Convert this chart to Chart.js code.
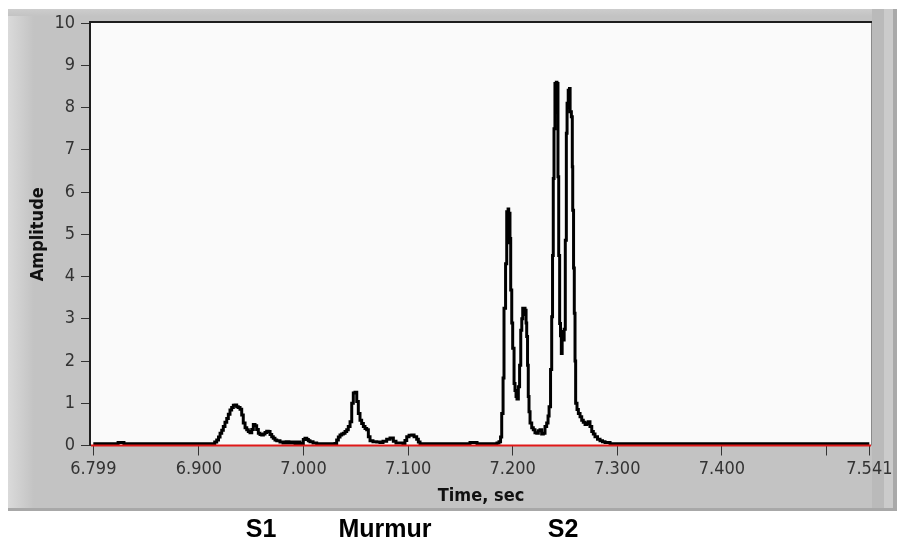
<!DOCTYPE html>
<html>
<head>
<meta charset="utf-8">
<script src="https://cdn.jsdelivr.net/npm/chart.js@4.4.1/dist/chart.umd.min.js"></script>
<style>
  html, body { margin: 0; padding: 0; background: #ffffff; }
  #wrap { width: 899px; height: 542px; position: relative; }
</style>
</head>
<body>
<div id="wrap"><canvas id="c" width="899" height="542"></canvas></div>
<script>
// ---- data ----
const timeSec = [
  6.7990, 6.8217, 6.8227, 6.8274, 6.8283,
  6.9125, 6.9151, 6.9170, 6.9187, 6.9202, 6.9218, 6.9233, 6.9249, 6.9266, 6.9281,
  6.9297, 6.9313, 6.9329, 6.9345, 6.9361, 6.9376, 6.9393, 6.9409, 6.9424, 6.9441,
  6.9457, 6.9472, 6.9488, 6.9505, 6.9520, 6.9536, 6.9552, 6.9568, 6.9584, 6.9600,
  6.9616, 6.9632, 6.9648, 6.9663, 6.9680, 6.9696, 6.9711, 6.9727, 6.9744, 6.9775,
  6.9804, 6.9833, 6.9861, 6.9890, 6.9919, 6.9947, 6.9966, 6.9998, 7.0014, 7.0031,
  7.0046, 7.0062, 7.0091, 7.0126,
  7.0301, 7.0317, 7.0333, 7.0349, 7.0365, 7.0381, 7.0397, 7.0413, 7.0428, 7.0445,
  7.0461, 7.0476, 7.0492, 7.0509, 7.0524, 7.0540, 7.0556, 7.0572, 7.0588, 7.0604,
  7.0620, 7.0636, 7.0664, 7.0700, 7.0731, 7.0760, 7.0795, 7.0827, 7.0859, 7.0884,
  7.0951, 7.0970, 7.0987, 7.1009, 7.1035, 7.1057, 7.1082, 7.1098, 7.1114,
  7.1582, 7.1592, 7.1649, 7.1659,
  7.1831, 7.1850, 7.1869, 7.1884, 7.1895, 7.1908, 7.1917, 7.1932, 7.1943, 7.1951,
  7.1956, 7.1962, 7.1967, 7.1974, 7.1981, 7.1991, 7.2000, 7.2013, 7.2022, 7.2032,
  7.2041, 7.2054, 7.2066, 7.2077, 7.2087, 7.2096, 7.2104, 7.2112, 7.2118, 7.2128,
  7.2134, 7.2142, 7.2149, 7.2156, 7.2166, 7.2182, 7.2197, 7.2213, 7.2230, 7.2245,
  7.2261, 7.2277, 7.2293, 7.2309, 7.2325, 7.2338, 7.2348, 7.2362, 7.2373, 7.2381,
  7.2388, 7.2395, 7.2404, 7.2411, 7.2417, 7.2423, 7.2427, 7.2433, 7.2440, 7.2449,
  7.2457, 7.2465, 7.2473, 7.2480, 7.2492, 7.2503, 7.2513, 7.2520, 7.2531, 7.2537,
  7.2543, 7.2549, 7.2561, 7.2570, 7.2574, 7.2582, 7.2589, 7.2596, 7.2602, 7.2615,
  7.2628, 7.2644, 7.2660, 7.2675, 7.2692, 7.2708, 7.2723, 7.2739, 7.2756, 7.2771,
  7.2787, 7.2811, 7.2835, 7.2859, 7.2883, 7.2931, 7.5410
];
const amplitude = [
  0.04, 0.04, 0.07, 0.07, 0.04,
  0.04, 0.08, 0.13, 0.20, 0.29, 0.36, 0.45, 0.55, 0.64, 0.74,
  0.84, 0.90, 0.95, 0.96, 0.92, 0.90, 0.86, 0.72, 0.53, 0.42,
  0.37, 0.33, 0.30, 0.38, 0.50, 0.47, 0.38, 0.29, 0.26, 0.25,
  0.27, 0.31, 0.34, 0.33, 0.26, 0.21, 0.17, 0.13, 0.11, 0.08,
  0.06, 0.09, 0.06, 0.08, 0.05, 0.08, 0.05, 0.14, 0.17, 0.14,
  0.11, 0.09, 0.06, 0.04,
  0.05, 0.13, 0.20, 0.25, 0.27, 0.29, 0.33, 0.37, 0.45, 0.56,
  1.00, 1.24, 1.26, 1.04, 0.76, 0.60, 0.52, 0.45, 0.40, 0.37,
  0.21, 0.11, 0.09, 0.08, 0.07, 0.10, 0.15, 0.18, 0.10, 0.06,
  0.05, 0.12, 0.21, 0.24, 0.25, 0.21, 0.15, 0.08, 0.04,
  0.04, 0.07, 0.07, 0.04,
  0.04, 0.06, 0.09, 0.20, 0.76, 1.60, 3.25, 4.30, 5.53, 5.00,
  5.60, 4.80, 5.50, 4.90, 3.68, 2.90, 2.30, 1.47, 1.30, 1.16,
  1.10, 1.39, 1.90, 2.73, 3.00, 3.25, 3.10, 3.25, 3.20, 2.90,
  2.58, 1.90, 1.16, 0.80, 0.53, 0.42, 0.37, 0.30, 0.29, 0.35,
  0.37, 0.27, 0.29, 0.45, 0.53, 0.70, 0.92, 1.80, 3.05, 4.50,
  6.32, 7.50, 8.57, 7.90, 8.60, 8.00, 8.57, 6.36, 4.50, 2.89,
  2.60, 2.18, 2.70, 2.50, 2.75, 4.86, 7.39, 8.10, 8.41, 8.00,
  8.45, 7.90, 7.78, 6.60, 5.57, 4.20, 3.13, 2.00, 1.00, 0.85,
  0.76, 0.68, 0.60, 0.55, 0.50, 0.52, 0.56, 0.45, 0.33, 0.27,
  0.21, 0.15, 0.11, 0.09, 0.07, 0.04, 0.04
];
const zeroLineX = [6.7968, 7.5426];
const zeroLineY = [0, 0];
const xTickValues = [6.799, 6.9, 7.0, 7.1, 7.2, 7.3, 7.4, 7.5, 7.541];
const xTickLabels = ['6.799', '6.900', '7.000', '7.100', '7.200', '7.300', '7.400', '', '7.541'];
const yTickValues = [0, 1, 2, 3, 4, 5, 6, 7, 8, 9, 10];
const footLabels = ['S1', 'Murmur', 'S2'];
const footCenters = [261, 385, 563];

// ---- build datasets ----
const signalPoints = timeSec.map((t, i) => ({ x: t, y: amplitude[i] }));
const zeroPoints = zeroLineX.map((t, i) => ({ x: t, y: zeroLineY[i] }));

const panelPlugin = {
  id: 'panel',
  beforeDraw(chart) {
    const ctx = chart.ctx;
    const a = chart.chartArea;
    ctx.save();
    ctx.fillStyle = '#ffffff';
    ctx.fillRect(0, 0, chart.width, chart.height);
    // gray panel
    ctx.fillStyle = '#c3c3c3';
    ctx.fillRect(8, 9, 889, 502);
    // left lighter bevel
    let g = ctx.createLinearGradient(8, 0, 34, 0);
    g.addColorStop(0, '#dadada');
    g.addColorStop(1, '#c3c3c3');
    ctx.fillStyle = g;
    ctx.fillRect(8, 9, 26, 502);
    // top strip
    g = ctx.createLinearGradient(0, 9, 0, 16);
    g.addColorStop(0, '#cdcdcd');
    g.addColorStop(1, '#c3c3c3');
    ctx.fillStyle = g;
    ctx.fillRect(8, 9, 889, 7);
    // right bevel
    ctx.fillStyle = '#bababa';
    ctx.fillRect(872, 9, 12, 502);
    ctx.fillStyle = '#cbcbcb';
    ctx.fillRect(884, 9, 9, 502);
    ctx.fillStyle = '#a9a9a9';
    ctx.fillRect(893, 9, 4, 502);
    // bottom edge
    ctx.fillStyle = '#a8a8a8';
    ctx.fillRect(8, 508, 889, 3);
    // plot area
    ctx.fillStyle = '#fafafa';
    ctx.fillRect(a.left, a.top, a.right - a.left, a.bottom - a.top);
    ctx.restore();
  },
  beforeDatasetsDraw(chart) {
    const ctx = chart.ctx;
    const a = chart.chartArea;
    ctx.save();
    ctx.strokeStyle = '#8a8a8a';
    ctx.lineWidth = 1;
    ctx.beginPath();
    ctx.moveTo(a.right + 0.5, a.top);
    ctx.lineTo(a.right + 0.5, a.bottom);
    ctx.stroke();
    ctx.strokeStyle = '#1e1e1e';
    ctx.lineWidth = 2;
    ctx.beginPath();
    ctx.moveTo(a.left - 1, a.bottom);
    ctx.lineTo(a.left - 1, a.top - 1);
    ctx.lineTo(a.right + 1, a.top - 1);
    ctx.stroke();
    ctx.restore();
  },
  afterDraw(chart) {
    const ctx = chart.ctx;
    ctx.save();
    ctx.fillStyle = '#000000';
    ctx.font = 'bold 25px "Liberation Sans", Arial, sans-serif';
    ctx.textAlign = 'center';
    ctx.textBaseline = 'alphabetic';
    footLabels.forEach((t, i) => ctx.fillText(t, footCenters[i], 537));
    ctx.restore();
  }
};

const tickFont = { family: '"DejaVu Sans Condensed", "DejaVu Sans", sans-serif', size: 18 };
const titleFont = { family: '"DejaVu Sans Condensed", "DejaVu Sans", sans-serif', size: 18, weight: 'bold' };

new Chart(document.getElementById('c'), {
  type: 'line',
  data: {
    datasets: [
      {
        label: 'Zero',
        data: zeroPoints,
        borderColor: '#e01818',
        borderWidth: 2,
        pointRadius: 0,
        clip: 4,
        order: 0
      },
      {
        label: 'Amplitude',
        data: signalPoints,
        borderColor: '#000000',
        borderWidth: 3,
        pointRadius: 0,
        stepped: true,
        order: 1
      }
    ]
  },
  options: {
    responsive: false,
    animation: false,
    events: [],
    layout: { padding: { left: 0, top: 23, right: 28, bottom: 31 } },
    plugins: { legend: { display: false }, tooltip: { enabled: false } },
    scales: {
      x: {
        type: 'linear',
        min: 6.7968,
        max: 7.5426,
        afterBuildTicks: (s) => { s.ticks = xTickValues.map(v => ({ value: v })); },
        afterFit: (s) => { s.height = 65.5; },
        ticks: {
          autoSkip: false,
          maxRotation: 0,
          minRotation: 0,
          padding: 3,
          color: '#333333',
          font: tickFont,
          callback: (v, i) => xTickLabels[i]
        },
        grid: { drawOnChartArea: false, drawTicks: true, tickLength: 10, tickColor: '#333333', tickWidth: 1 },
        border: { display: false },
        title: { display: true, text: 'Time, sec', color: '#111111', font: titleFont, padding: { top: 0, bottom: 4 } }
      },
      y: {
        min: 0,
        max: 10,
        afterBuildTicks: (s) => { s.ticks = yTickValues.map(v => ({ value: v })); },
        afterFit: (s) => { s.width = 91; },
        ticks: {
          padding: 6,
          color: '#333333',
          font: tickFont,
          callback: (v) => String(v)
        },
        grid: { drawOnChartArea: false, drawTicks: true, tickLength: 10, tickColor: '#333333', tickWidth: 1 },
        border: { display: false },
        title: { display: true, text: 'Amplitude', color: '#111111', font: titleFont, padding: { top: 28, bottom: 0 } }
      }
    }
  },
  plugins: [panelPlugin]
});
</script>
</body>
</html>
